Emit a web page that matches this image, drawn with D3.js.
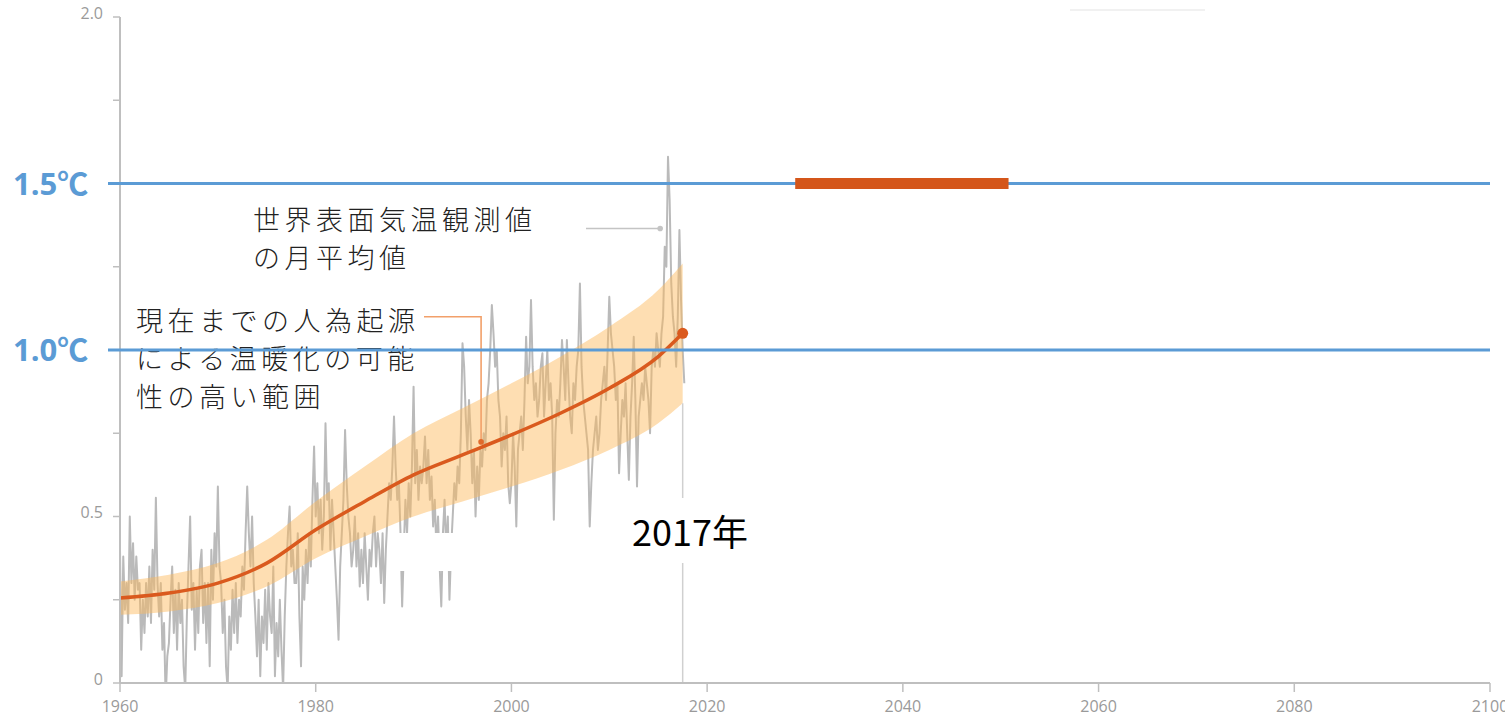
<!DOCTYPE html>
<html><head><meta charset="utf-8">
<script src="https://cdn.jsdelivr.net/npm/d3@7"></script>
<style>body{margin:0;background:#fff}svg{display:block}</style>
</head><body><svg id="c" width="1505" height="718"></svg>
<script>
// ---------------- data ----------------
const xTicks = [1960, 1980, 2000, 2020, 2040, 2060, 2080, 2100];
const yTicks = [0, 0.25, 0.5, 0.75, 1, 1.25, 1.5, 1.75, 2];
const yTickLabels = {"0": "0", "0.5": "0.5", "2": "2.0"};
const thresholdValues = [1.0, 1.5];
const thresholdLabels = ["1.0℃", "1.5℃"];

const trendYears = [1960, 1965, 1970, 1975, 1980, 1985, 1990, 1995, 2000, 2005, 2010, 2015, 2017.5];
const trendMid   = [0.255, 0.27, 0.30, 0.36, 0.46, 0.545, 0.625, 0.685, 0.745, 0.81, 0.885, 0.98, 1.05];
const trendLow   = [0.205, 0.215, 0.24, 0.29, 0.375, 0.44, 0.50, 0.545, 0.59, 0.64, 0.70, 0.78, 0.84];
const trendHigh  = [0.305, 0.325, 0.36, 0.43, 0.545, 0.65, 0.75, 0.825, 0.90, 0.98, 1.07, 1.18, 1.26];

const obsStartYear = 1960;
const obsPerYear = 6;
const obsValues = [
  0.40,0.02,0.38,0.22,0.30,0.18, // 1960
  0.50,0.30,0.42,0.25,0.38,0.28,
  0.30,0.10,0.25,0.15,0.30,0.20,
  0.35,0.18,0.40,0.28,0.556,0.30,
  0.20,0.30,0.10,0.18,-0.05,0.08,
  0.12,0.25,0.35,0.15,0.28,0.10, // 1965
  0.30,0.18,0.25,0.05,-0.02,0.20,
  0.35,0.50,0.22,0.30,0.10,0.28,
  0.15,0.35,0.40,0.18,0.30,0.12,
  0.30,0.05,0.40,0.25,0.45,0.35,
  0.59,0.35,0.30,0.15,0.25,0.05, // 1970
  -0.02,0.20,0.10,0.28,0.15,0.30,
  0.12,0.25,0.20,0.35,0.28,0.45,
  0.59,0.45,0.35,0.50,0.30,0.20,
  0.08,0.25,0.02,0.20,0.12,0.28,
  0.10,0.30,0.20,0.15,0.35,0.02, // 1975
  0.18,0.08,0.25,0.10,-0.02,0.20,
  0.35,0.45,0.53,0.35,0.40,0.30,
  0.30,0.45,0.20,0.05,0.35,0.25,
  0.40,0.30,0.45,0.35,0.55,0.71,
  0.50,0.60,0.45,0.55,0.40,0.50, // 1980
  0.78,0.55,0.60,0.40,0.55,0.45,
  0.35,0.25,0.13,0.35,0.45,0.55,
  0.76,0.60,0.50,0.45,0.35,0.40,
  0.50,0.35,0.45,0.29,0.40,0.30,
  0.45,0.35,0.25,0.40,0.35,0.45, // 1985
  0.50,0.35,0.45,0.40,0.30,0.45,
  0.24,0.40,0.50,0.60,0.55,0.65,
  0.80,0.65,0.55,0.60,0.45,0.23,
  0.40,0.55,0.45,0.60,0.50,0.65,
  0.89,0.60,0.70,0.55,0.65,0.60, // 1990
  0.65,0.74,0.60,0.70,0.55,0.62,
  0.47,0.55,0.40,0.50,0.35,0.23,
  0.45,0.55,0.40,0.50,0.25,0.40,
  0.50,0.60,0.55,0.65,0.60,0.75,
  1.02,0.95,0.80,0.70,0.85,0.75, // 1995
  0.60,0.70,0.50,0.65,0.55,0.70,
  0.65,0.75,0.70,0.85,0.90,1.00,
  1.135,1.05,0.95,1.00,0.85,0.80,
  0.65,0.75,0.70,0.80,0.60,0.54,
  0.60,0.75,0.65,0.47,0.70,0.75, // 2000
  0.80,0.70,0.85,1.04,0.90,0.95,
  1.15,0.95,0.85,0.90,0.80,0.85,
  0.95,0.99,0.80,0.90,1.00,0.85,
  0.90,0.80,0.49,0.75,0.85,0.80,
  0.90,1.03,0.95,0.85,1.03,0.90, // 2005
  0.80,0.75,0.90,0.85,0.95,1.00,
  1.20,0.95,0.85,0.80,0.75,0.70,
  0.47,0.60,0.70,0.75,0.80,0.70,
  0.75,0.85,0.90,0.95,0.85,1.00,
  1.16,1.05,1.00,0.95,0.85,0.90, // 2010
  0.63,0.75,0.85,0.80,0.90,0.75,
  0.61,0.80,0.90,1.04,0.85,0.59,
  0.80,0.85,0.90,0.85,0.95,0.90,
  0.85,0.75,0.95,1.00,0.95,1.05,
  1.00,0.95,1.05,1.10,1.31,1.25, // 2015
  1.58,1.45,1.20,1.10,1.05,0.95,
  1.10,1.36,1.15,1.00,0.90
];
const reachRangeYears = [2029, 2050.8]; // 1.5℃ reached
const currentYear = 2017.5;

// ---------------- chart ----------------
const svg = d3.select("#c");
const x = d3.scaleLinear().domain([1960, 2100]).range([120, 1490]);
const y = d3.scaleLinear().domain([0, 2]).range([683, 17]);

const obs = obsValues.map((v, i) => ({t: obsStartYear + i / obsPerYear, v}));
const trend = trendYears.map((t, i) => ({t, m: trendMid[i], lo: trendLow[i], hi: trendHigh[i]}));

svg.append("defs").append("clipPath").attr("id", "plot")
  .append("rect").attr("x", 100).attr("y", y(2)).attr("width", 1400).attr("height", y(0) - y(2));

// faint line near top
svg.append("line").attr("x1", 1070).attr("x2", 1205).attr("y1", 10).attr("y2", 10)
  .attr("stroke", "#ececec").attr("stroke-width", 1.5);

// observations
svg.append("path").datum(obs)
  .attr("clip-path", "url(#plot)")
  .attr("fill", "none").attr("stroke", "#bababa").attr("stroke-width", 2)
  .attr("stroke-linejoin", "round")
  .attr("d", d3.line().x(d => x(d.t)).y(d => y(d.v)));

// band
svg.append("path").datum(trend)
  .attr("fill", "#fcb85c").attr("fill-opacity", 0.47)
  .attr("d", d3.area().curve(d3.curveMonotoneX).x(d => x(d.t)).y0(d => y(d.lo)).y1(d => y(d.hi)));

// trend line
svg.append("path").datum(trend)
  .attr("fill", "none").attr("stroke", "#da5a1e").attr("stroke-width", 3.5)
  .attr("d", d3.line().curve(d3.curveMonotoneX).x(d => x(d.t)).y(d => y(d.m)));
svg.append("circle").attr("cx", x(trend[trend.length - 1].t)).attr("cy", y(trend[trend.length - 1].m))
  .attr("r", 5.5).attr("fill", "#da5a1e");

// white mask artifact
svg.append("rect").attr("x", 396).attr("y", 533).attr("width", 87).attr("height", 38).attr("fill", "#fff");

// current year vertical line
svg.append("line").attr("x1", x(currentYear)).attr("x2", x(currentYear))
  .attr("y1", y(0)).attr("y2", y(0.84)).attr("stroke", "#d0d0d0").attr("stroke-width", 1.5);
svg.append("rect").attr("x", 625).attr("y", 498).attr("width", 135).attr("height", 65).attr("fill", "#fff");
svg.append("text").attr("x", 632).attr("y", 546).text("2017年")
  .attr("font-family", "'Noto Sans CJK JP'").attr("font-size", 36).attr("fill", "#000");

// axes
const axisColor = "#bfbfbf";
svg.append("line").attr("x1", x(1960)).attr("x2", x(1960)).attr("y1", y(0)).attr("y2", y(2))
  .attr("stroke", axisColor).attr("stroke-width", 2);
svg.append("line").attr("x1", x(1960)).attr("x2", x(2100)).attr("y1", y(0)).attr("y2", y(0))
  .attr("stroke", axisColor).attr("stroke-width", 2);
svg.selectAll(".yt").data(yTicks).enter().append("line")
  .attr("x1", x(1960) - 7).attr("x2", x(1960)).attr("y1", d => y(d)).attr("y2", d => y(d))
  .attr("stroke", axisColor).attr("stroke-width", 1.5);
svg.selectAll(".ytl").data(yTicks.filter(d => yTickLabels[String(d)] !== undefined)).enter().append("text")
  .attr("x", 103).attr("y", d => y(d)).attr("dy", "0.1em").attr("text-anchor", "end")
  .attr("font-family", "'Open Sans'").attr("font-size", 16).attr("fill", "#9a9a9a")
  .text(d => yTickLabels[String(d)]);
svg.selectAll(".xt").data(xTicks).enter().append("line")
  .attr("x1", d => x(d)).attr("x2", d => x(d)).attr("y1", y(0)).attr("y2", y(0) + 9)
  .attr("stroke", axisColor).attr("stroke-width", 1.5);
svg.selectAll(".xtl").data(xTicks).enter().append("text")
  .attr("x", d => x(d)).attr("y", 712).attr("text-anchor", "middle")
  .attr("font-family", "'Open Sans'").attr("font-size", 16).attr("fill", "#9a9a9a")
  .text(d => d);

// annotations
const jp = "'Noto Sans CJK JP'";
function multiline(lines, x0, y0, lh) {
  const t = svg.append("text").attr("font-family", jp).attr("font-size", 27).attr("font-weight", 300)
    .attr("letter-spacing", 4.5).attr("fill", "#222");
  lines.forEach((l, i) => t.append("tspan").attr("x", x0).attr("y", y0 + i * lh).text(l));
}
multiline(["世界表面気温観測値", "の月平均値"], 253, 230, 38);
multiline(["現在までの人為起源", "による温暖化の可能", "性の高い範囲"], 136, 331, 38);

// leader lines
svg.append("line").attr("x1", 586).attr("x2", x(2015.2)).attr("y1", y(1.365)).attr("y2", y(1.365))
  .attr("stroke", "#c4c4c4").attr("stroke-width", 1.5);
svg.append("circle").attr("cx", x(2015.2)).attr("cy", y(1.365)).attr("r", 2.8).attr("fill", "#c4c4c4");
svg.append("path").attr("fill", "none").attr("stroke", "#f2a06a").attr("stroke-width", 1.6)
  .attr("d", `M424,${y(1.1)}H${x(1996.9)}V${y(0.724)}`);
svg.append("circle").attr("cx", x(1996.9)).attr("cy", y(0.724)).attr("r", 2.8).attr("fill", "#e06a2c");

// threshold lines
svg.selectAll(".th").data(thresholdValues).enter().append("line")
  .attr("x1", 108).attr("x2", x(2100)).attr("y1", d => y(d)).attr("y2", d => y(d))
  .attr("stroke", "#5b9bd5").attr("stroke-width", 3);
svg.selectAll(".thl").data(thresholdValues).enter().append("text")
  .attr("x", 13).attr("y", d => y(d)).attr("dy", "0.36em")
  .attr("font-family", "'Open Sans', 'Noto Sans CJK JP'").attr("font-weight", 700)
  .attr("font-size", 31).attr("fill", "#5b9bd5")
  .text((d, i) => thresholdLabels[i]);

// 1.5 reach range bar
svg.append("rect").attr("x", x(reachRangeYears[0])).attr("width", x(reachRangeYears[1]) - x(reachRangeYears[0]))
  .attr("y", y(1.5) - 5.5).attr("height", 11).attr("fill", "#d4561a");
</script></body></html>
